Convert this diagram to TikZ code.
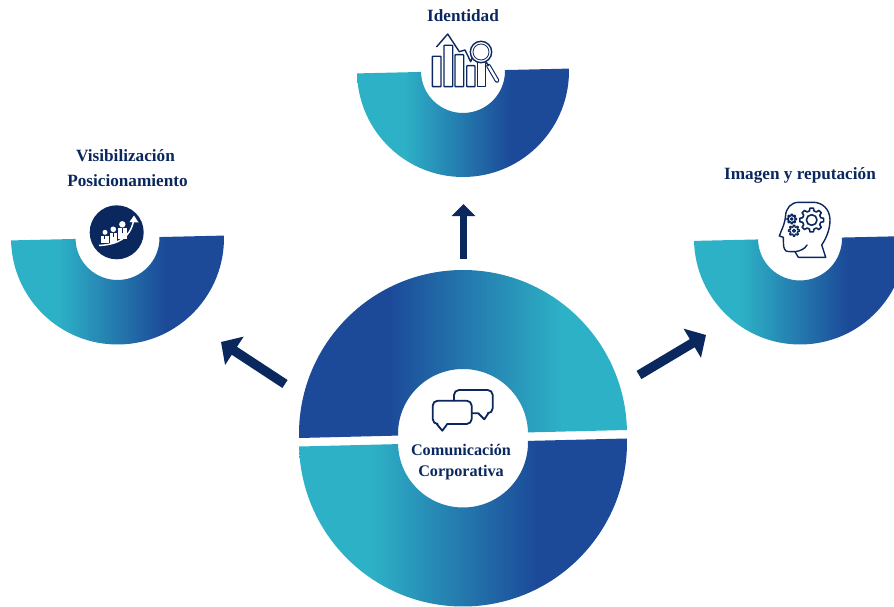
\documentclass[tikz,border=0pt]{standalone}
\usepackage{fontspec}
\setmainfont{Liberation Serif}
\usetikzlibrary{arrows.meta}
\definecolor{lightteal}{HTML}{2DB1C6}
\definecolor{deepblue}{HTML}{1C4A99}
\definecolor{navy}{HTML}{0B285E}
\pgfdeclarehorizontalshading{tealblue}{100bp}{color(0bp)=(lightteal); color(36bp)=(lightteal); color(61bp)=(deepblue); color(100bp)=(deepblue)}
\pgfdeclarehorizontalshading{blueteal}{100bp}{color(0bp)=(deepblue); color(39bp)=(deepblue); color(65bp)=(lightteal); color(100bp)=(lightteal)}
\tikzset{
  labeltext/.style={font=\bfseries\fontsize{17.2}{19}\selectfont,text=navy,inner sep=0pt,align=center},
  centertext/.style={labeltext,font=\bfseries\fontsize{16.2}{18}\selectfont},
  iconline/.style={draw=navy,line width=1.4pt,line join=round,line cap=round},
  arrowline/.style={draw=navy,line width=#1},
  tipup/.style={-{Triangle[length=12pt,width=23pt]}},
  tipdiag/.style={-{Triangle[length=16pt,width=33pt]}},
}
\newcommand{\halfring}[6]{% cx cy R r rot shading
  \path[shade,shading=#6,shift={(#1,#2)},rotate=#5]
    (-#3,0) arc[start angle=180,end angle=0,radius=#3] -- (#4,0)
    arc[start angle=0,end angle=180,radius=#4] -- cycle;}
\newcommand{\gearshape}[7]{% cx cy ro ri hole teeth lw
  \pgfmathsetmacro{\stepa}{360/#6}
  \pgfmathsetmacro{\lasti}{#6-1}
  \draw[iconline,line width=#7,shift={(#1,#2)}] ({-0.32*\stepa}:#4)
    \foreach \i in {0,...,\lasti}{
      -- ({\i*\stepa-0.32*\stepa}:#4) -- ({\i*\stepa-0.18*\stepa}:#3)
      -- ({\i*\stepa+0.18*\stepa}:#3) -- ({\i*\stepa+0.32*\stepa}:#4)
    } -- cycle;
  \draw[iconline,line width=#7] (#1,#2) circle[radius=#5];}
\begin{document}
\begin{tikzpicture}[x=1pt,y=-1pt]
\fill[white] (0,0) rectangle (894,607);
\useasboundingbox (0,0) rectangle (894,607);
\begin{scope}
\clip (0,0) rectangle (894,607);
% small half rings
\halfring{463}{71}{106}{42}{1.3}{tealblue}
\halfring{117.5}{238}{106.5}{42}{1.3}{tealblue}
\halfring{800}{238.5}{106}{42}{1.3}{tealblue}
% main ring
\path[shade,shading=blueteal,shift={(463,434)},rotate=1.4]
  (-164,0) arc[start angle=180,end angle=360,radius=164] -- (65,0)
  arc[start angle=360,end angle=180,radius=65] -- cycle;
\halfring{463}{442.5}{164}{65}{1.4}{tealblue}
\end{scope}

% labels
\node[labeltext] (identidad) at (463,16) {Identidad};
\node[labeltext] (visib) at (125.5,156) {Visibilización};
\node[labeltext] (posic) at (127.5,181) {Posicionamiento};
\node[labeltext] (imagen) at (800,175) {Imagen y reputación};
\node[centertext] (comun) at (461,450) {Comunicación};
\node[centertext] (corpo) at (461,473) {Corporativa};

% arrows
\coordinate (upTail) at (463.5,259);
\coordinate (upTip) at (463.5,204);
\coordinate (leftTail) at (285,384);
\coordinate (leftTip) at (221,342);
\coordinate (rightTail) at (639,375);
\coordinate (rightTip) at (706,335);
\draw[arrowline=7pt,tipup] (upTail) -- (upTip);
\draw[arrowline=9.5pt,tipdiag] (leftTail) -- (leftTip);
\draw[arrowline=9.5pt,tipdiag] (rightTail) -- (rightTip);

% chart icon
\foreach \xa/\xb/\ya in {432.3/441/56.3,444/452.7/45.3,455/463.7/54.7,466.7/475/65.7}{
  \draw[iconline,rounded corners=0.6pt] (\xa,\ya) rectangle (\xb,86.7);}
\draw[iconline] (477.7,61) -- (477.7,86.7) -- (485.7,86.7) -- (485.7,63);
\draw[iconline] (436.7,46.7) -- (447.7,34) -- (459.3,51.7) -- (465,50) -- (470.7,61.7) -- (473,56);
\fill[white] (481,52) circle[radius=10.7];
\draw[iconline] (481,52) circle[radius=10.7];
\draw[iconline,line width=0.8pt] (481,52) circle[radius=8];
\draw[navy,line width=4.6pt,line cap=round] (488.5,66) -- (497,80.5);
\draw[white,line width=2.4pt,line cap=round] (488.5,66) -- (497,80.5);
\draw[iconline] (486.3,62.3) -- (488.3,65.5);

% person-chart icon
\fill[navy] (116.7,232.3) circle[radius=27];
\fill[white] (105,232.3) circle[radius=2.5] (113.3,229.3) circle[radius=2.8] (122.3,224.3) circle[radius=3.2];
\fill[white] (100.7,235.5) rectangle (109,243.3);
\fill[white] (110.3,233) rectangle (117,242.5);
\fill[white] (118.3,228.3) rectangle (126.7,239.3);
\draw[navy,line width=0.8pt] (104.8,235.5) -- (104.8,239) (113.6,233) -- (113.6,237) (122.5,228.3) -- (122.5,233);
\draw[white,line width=1.5pt] (99,245.5) .. controls (118,244.5) and (130,238) .. (133.5,221);
\fill[white] (134,215.5) -- (138.5,222.5) -- (129.5,222) -- cycle;

% head icon
\draw[iconline] (825.7,257.3) -- (821.7,245) .. controls (825,240) and (830,231) .. (830,220)
  .. controls (830,209) and (822,202.3) .. (813.3,202.3) -- (799,202.3)
  .. controls (791,202.3) and (786,208) .. (785.5,216) .. controls (785,224) and (781,231) .. (779.3,236)
  -- (783.3,237.3) -- (783.5,244) .. controls (783.5,248) and (785,251.5) .. (788,251.5)
  -- (795,251.7) -- (798.3,257.3) -- cycle;
\draw[iconline] (795,251.7) .. controls (800,251) and (805,249) .. (807,245);
\gearshape{811.7}{220}{12}{9.3}{5.3}{8}{1.6pt}
\gearshape{791.7}{219}{4.8}{3.2}{1.2}{8}{1.3pt}
\gearshape{794}{230.7}{5.6}{3.8}{1.4}{8}{1.3pt}

% chat icon
\draw[iconline,line width=1.8pt,rounded corners=5pt] (454,400.7) -- (454,390) -- (492.7,390) -- (492.7,413.3) -- (488.3,413.3);
\draw[iconline,line width=1.8pt] (488.3,413.3) -- (484.3,419.3) -- (478.3,413.3) -- (471.7,413.3);
\draw[iconline,line width=1.8pt,rounded corners=5pt] (447.3,424) -- (471.7,424) -- (471.7,400.7) -- (432.7,400.7) -- (432.7,424) -- (436.7,424);
\draw[iconline,line width=1.8pt] (436.7,424) -- (442.3,430.7) -- (447.3,424);
\end{tikzpicture}
\end{document}
